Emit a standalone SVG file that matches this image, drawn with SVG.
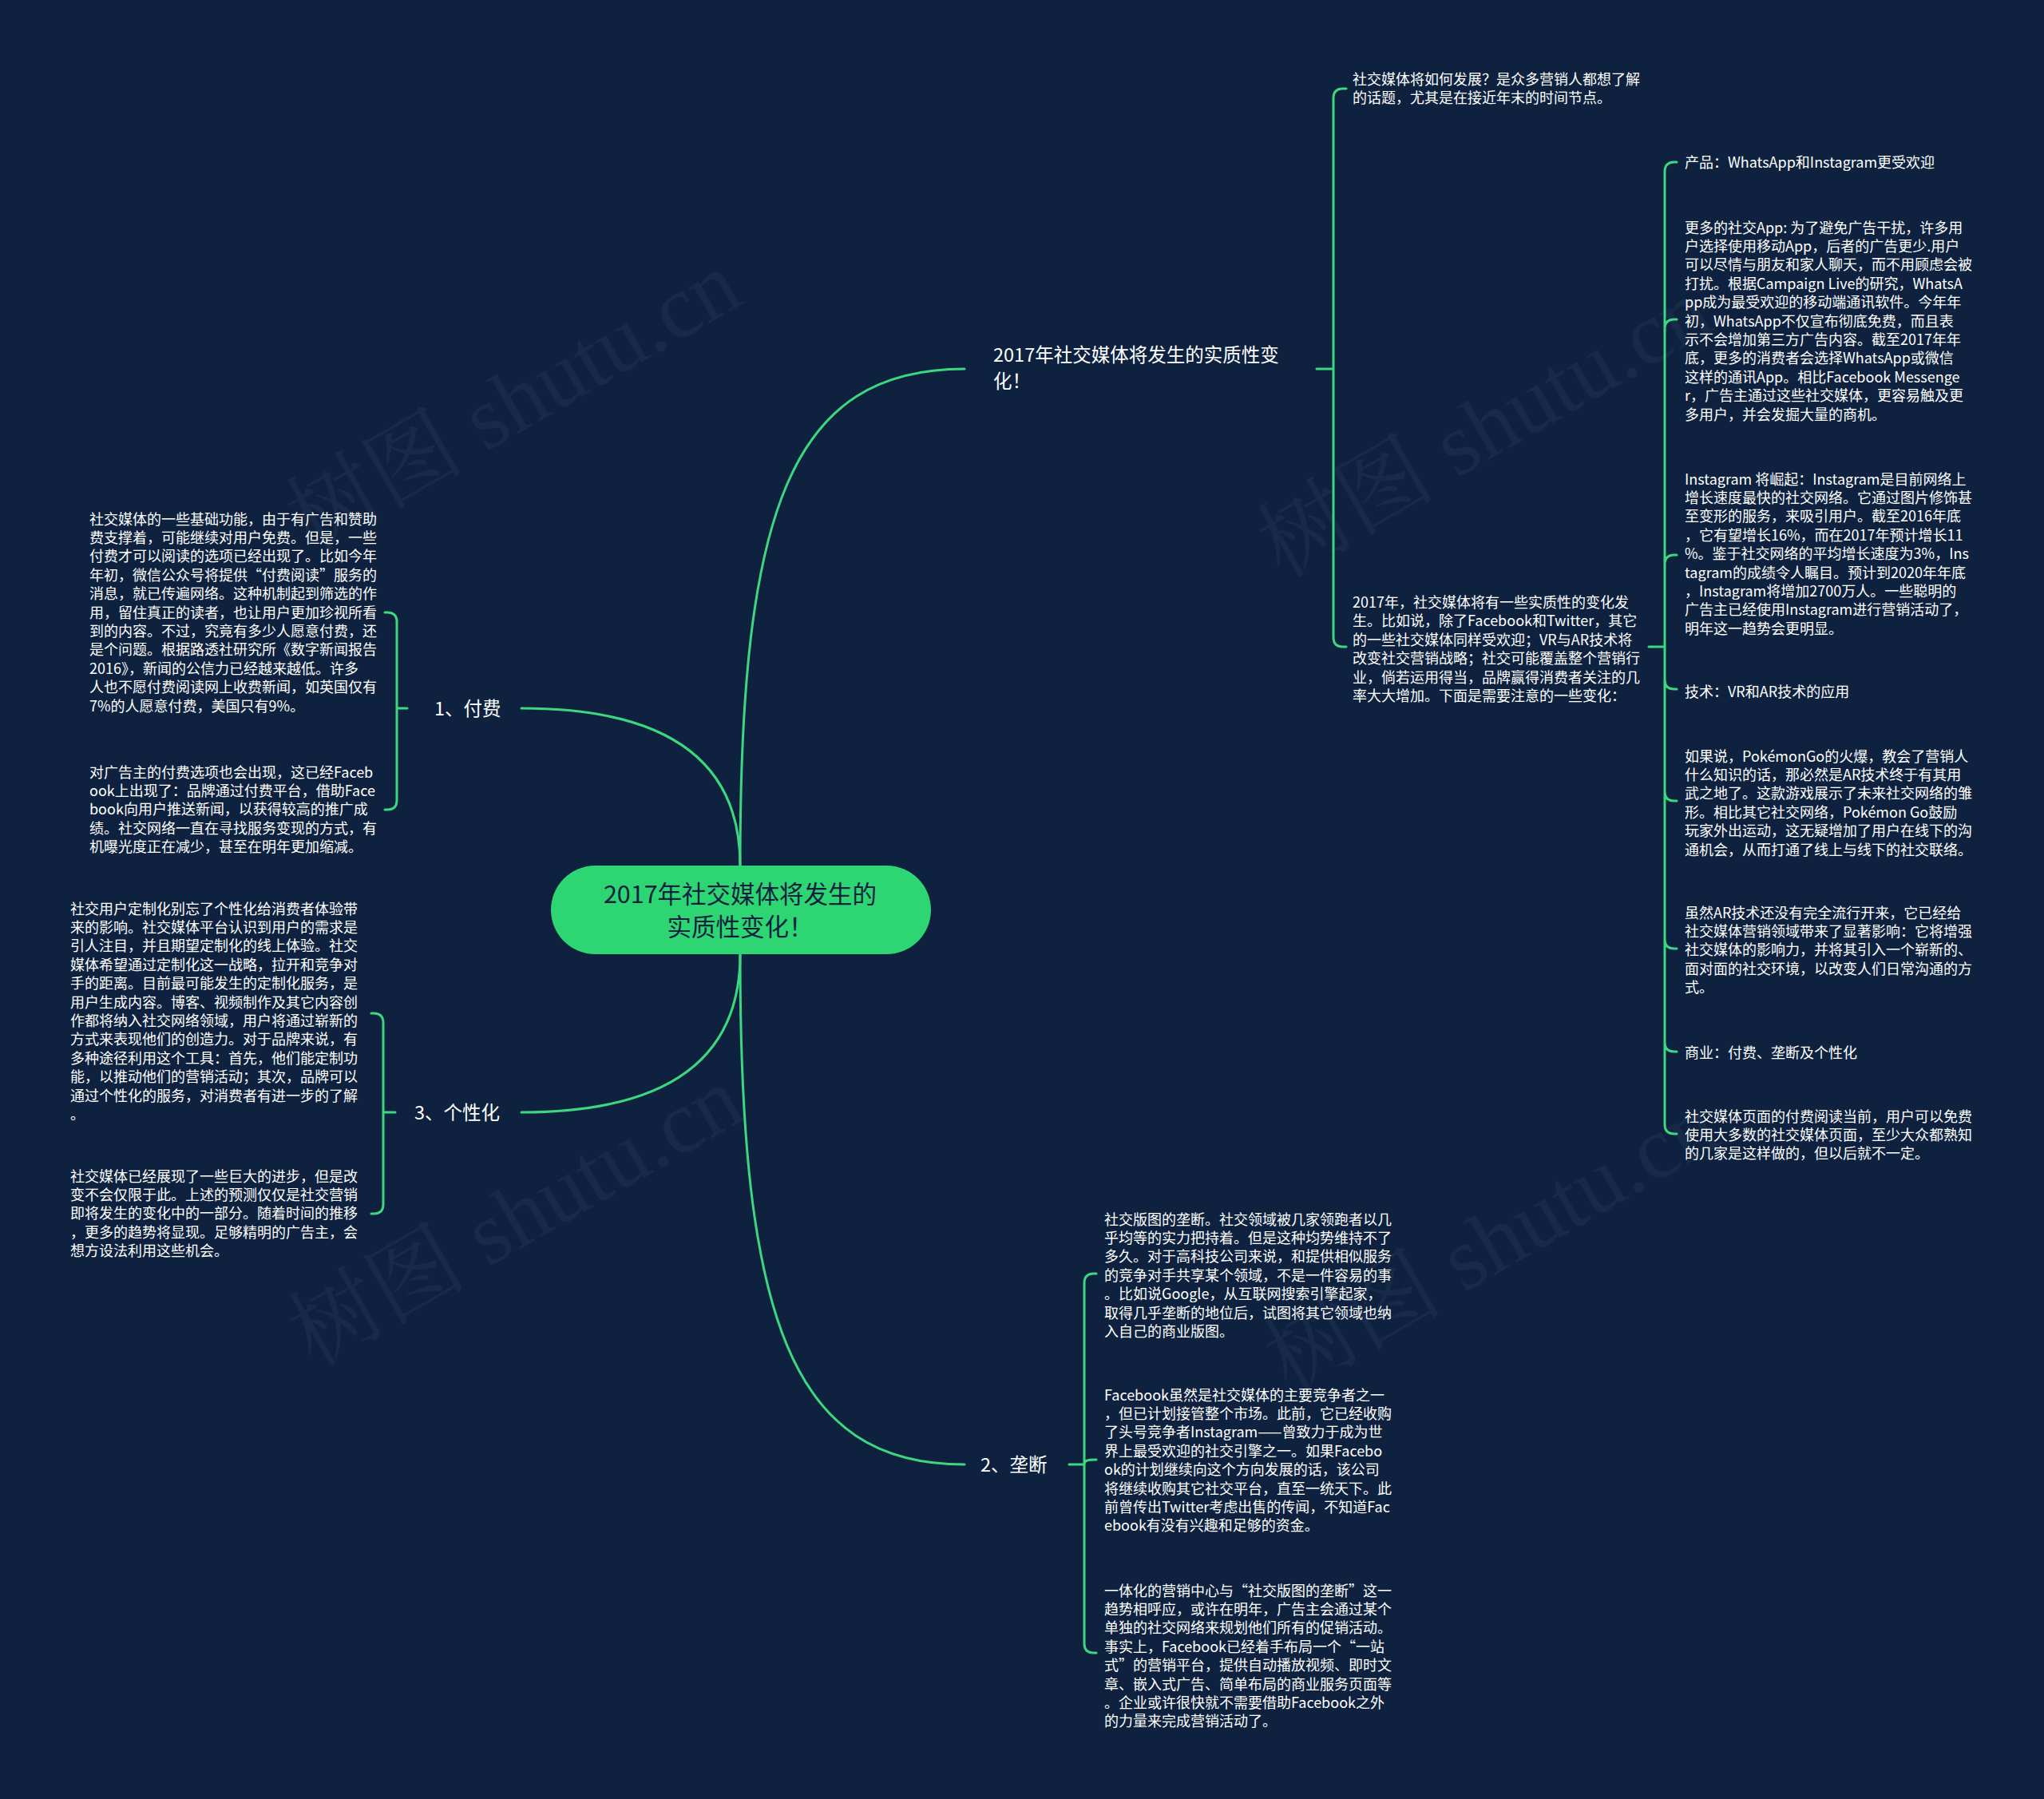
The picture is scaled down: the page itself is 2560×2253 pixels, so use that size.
<svg xmlns="http://www.w3.org/2000/svg" width="2560" height="2253" viewBox="0 0 2560 2253">
<style>
.t{font-family:'Noto Sans CJK SC','Noto Sans',sans-serif;font-size:18px;fill:#ffffff}
.b{font-family:'Noto Sans CJK SC','Noto Sans',sans-serif;font-size:23.5px;fill:#ffffff}
.ctr{font-family:'Noto Sans CJK SC','Noto Sans',sans-serif;font-size:30.5px;fill:#0e2240}
.c{fill:none;stroke:#3cd77e;stroke-width:3;stroke-linecap:round}
.wm{font-family:'Liberation Serif','Noto Serif CJK SC','Noto Sans CJK SC',serif;font-size:112px;fill:#ffffff;fill-opacity:0.04}
</style>
<rect width="2560" height="2253" fill="#0e2240"/>
<g id="watermarks">
<text class="wm" x="645" y="540" text-anchor="middle" transform="rotate(-30 645 506)">树图 shutu.cn</text>
<text class="wm" x="1861" y="573" text-anchor="middle" transform="rotate(-30 1861 539)">树图 shutu.cn</text>
<text class="wm" x="648" y="1561" text-anchor="middle" transform="rotate(-30 648 1527)">树图 shutu.cn</text>
<text class="wm" x="1870" y="1593" text-anchor="middle" transform="rotate(-30 1870 1559)">树图 shutu.cn</text>
</g>
<g id="connectors">
<path class="c" d="M927,1084 C927,640 990,462 1208,462"/>
<path class="c" d="M927,1084 Q927,887 653,887"/>
<path class="c" d="M927,1195 Q927,1393 653,1393"/>
<path class="c" d="M927,1195 C927,1650 990,1834 1208,1834"/>
<path class="c" d="M1649,462 H1670 M1670,462 V123 Q1670,111 1682,111 H1686 M1670,462 V798 Q1670,810 1682,810 H1686"/>
<path class="c" d="M2065,810 H2085 M2085,810 V215 Q2085,203 2097,203 H2100 M2085,810 V412 Q2085,400 2097,400 H2100 M2085,810 V707 Q2085,695 2097,695 H2100 M2085,810 V851 Q2085,863 2097,863 H2100 M2085,810 V991 Q2085,1003 2097,1003 H2100 M2085,810 V1176 Q2085,1188 2097,1188 H2100 M2085,810 V1305 Q2085,1317 2097,1317 H2100 M2085,810 V1408 Q2085,1420 2097,1420 H2100"/>
<path class="c" d="M510,887 H497 M497,887 V779 Q497,767 485,767 H482 M497,887 V1002 Q497,1014 485,1014 H482"/>
<path class="c" d="M495,1393 H480 M480,1393 V1281 Q480,1269 468,1269 H465 M480,1393 V1508 Q480,1520 468,1520 H465"/>
<path class="c" d="M1339,1834 H1358 M1358,1834 V1607 Q1358,1595 1370,1595 H1373 M1358,1834 C1358,1829 1362,1828 1373,1828 M1358,1834 V2058 Q1358,2070 1370,2070 H1373"/>
</g>
<g id="center">
<rect x="690" y="1084" width="476" height="111" rx="55.5" fill="#2ed573"/>
<text class="ctr" text-anchor="middle"><tspan x="927" y="1131">2017年社交媒体将发生的</tspan><tspan x="927" y="1172">实质性变化！</tspan></text>
</g>
<g id="branch-main">
<text class="b"><tspan x="1244" y="452.5">2017年社交媒体将发生的实质性变</tspan><tspan x="1244" y="485.5">化！</tspan></text>
</g>
<g id="branch-1">
<text class="b" x="544" y="895.5">1、付费</text>
</g>
<g id="branch-3">
<text class="b" x="519" y="1401.5">3、个性化</text>
</g>
<g id="branch-2">
<text class="b" x="1228" y="1842.5">2、垄断</text>
</g>
<g id="node-a">
<text class="t"><tspan x="1694" y="106">社交媒体将如何发展？是众多营销人都想了解</tspan><tspan x="1694" y="129.4">的话题，尤其是在接近年末的时间节点。</tspan></text>
</g>
<g id="node-b">
<text class="t"><tspan x="1694" y="761">2017年，社交媒体将有一些实质性的变化发</tspan><tspan x="1694" y="784.4">生。比如说，除了Facebook和Twitter，其它</tspan><tspan x="1694" y="807.8">的一些社交媒体同样受欢迎；VR与AR技术将</tspan><tspan x="1694" y="831.2">改变社交营销战略；社交可能覆盖整个营销行</tspan><tspan x="1694" y="854.6">业，倘若运用得当，品牌赢得消费者关注的几</tspan><tspan x="1694" y="878">率大大增加。下面是需要注意的一些变化：</tspan></text>
</g>
<g id="node-b1">
<text class="t" x="2110" y="209.5">产品：WhatsApp和Instagram更受欢迎</text>
</g>
<g id="node-b2">
<text class="t"><tspan x="2110" y="291.5">更多的社交App: 为了避免广告干扰，许多用</tspan><tspan x="2110" y="314.9">户选择使用移动App，后者的广告更少.用户</tspan><tspan x="2110" y="338.3">可以尽情与朋友和家人聊天，而不用顾虑会被</tspan><tspan x="2110" y="361.7">打扰。根据Campaign Live的研究，WhatsA</tspan><tspan x="2110" y="385.1">pp成为最受欢迎的移动端通讯软件。今年年</tspan><tspan x="2110" y="408.5">初，WhatsApp不仅宣布彻底免费，而且表</tspan><tspan x="2110" y="431.9">示不会增加第三方广告内容。截至2017年年</tspan><tspan x="2110" y="455.3">底，更多的消费者会选择WhatsApp或微信</tspan><tspan x="2110" y="478.7">这样的通讯App。相比Facebook Messenge</tspan><tspan x="2110" y="502.1">r，广告主通过这些社交媒体，更容易触及更</tspan><tspan x="2110" y="525.5">多用户，并会发掘大量的商机。</tspan></text>
</g>
<g id="node-b3">
<text class="t"><tspan x="2110" y="606.5">Instagram 将崛起：Instagram是目前网络上</tspan><tspan x="2110" y="629.9">增长速度最快的社交网络。它通过图片修饰甚</tspan><tspan x="2110" y="653.3">至变形的服务，来吸引用户。截至2016年底</tspan><tspan x="2110" y="676.7">，它有望增长16%，而在2017年预计增长11</tspan><tspan x="2110" y="700.1">%。鉴于社交网络的平均增长速度为3%，Ins</tspan><tspan x="2110" y="723.5">tagram的成绩令人瞩目。预计到2020年年底</tspan><tspan x="2110" y="746.9">，Instagram将增加2700万人。一些聪明的</tspan><tspan x="2110" y="770.3">广告主已经使用Instagram进行营销活动了，</tspan><tspan x="2110" y="793.7">明年这一趋势会更明显。</tspan></text>
</g>
<g id="node-b4">
<text class="t" x="2110" y="873">技术：VR和AR技术的应用</text>
</g>
<g id="node-b5">
<text class="t"><tspan x="2110" y="953.5">如果说，PokémonGo的火爆，教会了营销人</tspan><tspan x="2110" y="976.9">什么知识的话，那必然是AR技术终于有其用</tspan><tspan x="2110" y="1000.3">武之地了。这款游戏展示了未来社交网络的雏</tspan><tspan x="2110" y="1023.7">形。相比其它社交网络，Pokémon Go鼓励</tspan><tspan x="2110" y="1047.1">玩家外出运动，这无疑增加了用户在线下的沟</tspan><tspan x="2110" y="1070.5">通机会，从而打通了线上与线下的社交联络。</tspan></text>
</g>
<g id="node-b6">
<text class="t"><tspan x="2110" y="1149.5">虽然AR技术还没有完全流行开来，它已经给</tspan><tspan x="2110" y="1172.9">社交媒体营销领域带来了显著影响：它将增强</tspan><tspan x="2110" y="1196.3">社交媒体的影响力，并将其引入一个崭新的、</tspan><tspan x="2110" y="1219.7">面对面的社交环境，以改变人们日常沟通的方</tspan><tspan x="2110" y="1243.1">式。</tspan></text>
</g>
<g id="node-b7">
<text class="t" x="2110" y="1324.5">商业：付费、垄断及个性化</text>
</g>
<g id="node-b8">
<text class="t"><tspan x="2110" y="1404.5">社交媒体页面的付费阅读当前，用户可以免费</tspan><tspan x="2110" y="1427.9">使用大多数的社交媒体页面，至少大众都熟知</tspan><tspan x="2110" y="1451.3">的几家是这样做的，但以后就不一定。</tspan></text>
</g>
<g id="node-l1a">
<text class="t"><tspan x="112" y="656.5">社交媒体的一些基础功能，由于有广告和赞助</tspan><tspan x="112" y="679.9">费支撑着，可能继续对用户免费。但是，一些</tspan><tspan x="112" y="703.3">付费才可以阅读的选项已经出现了。比如今年</tspan><tspan x="112" y="726.7">年初，微信公众号将提供“付费阅读”服务的</tspan><tspan x="112" y="750.1">消息，就已传遍网络。这种机制起到筛选的作</tspan><tspan x="112" y="773.5">用，留住真正的读者，也让用户更加珍视所看</tspan><tspan x="112" y="796.9">到的内容。不过，究竟有多少人愿意付费，还</tspan><tspan x="112" y="820.3">是个问题。根据路透社研究所《数字新闻报告</tspan><tspan x="112" y="843.7">2016》，新闻的公信力已经越来越低。许多</tspan><tspan x="112" y="867.1">人也不愿付费阅读网上收费新闻，如英国仅有</tspan><tspan x="112" y="890.5">7%的人愿意付费，美国只有9%。</tspan></text>
</g>
<g id="node-l1b">
<text class="t"><tspan x="112" y="973.5">对广告主的付费选项也会出现，这已经Faceb</tspan><tspan x="112" y="996.9">ook上出现了：品牌通过付费平台，借助Face</tspan><tspan x="112" y="1020.3">book向用户推送新闻，以获得较高的推广成</tspan><tspan x="112" y="1043.7">绩。社交网络一直在寻找服务变现的方式，有</tspan><tspan x="112" y="1067.1">机曝光度正在减少，甚至在明年更加缩减。</tspan></text>
</g>
<g id="node-l3a">
<text class="t"><tspan x="88" y="1144.5">社交用户定制化别忘了个性化给消费者体验带</tspan><tspan x="88" y="1167.9">来的影响。社交媒体平台认识到用户的需求是</tspan><tspan x="88" y="1191.3">引人注目，并且期望定制化的线上体验。社交</tspan><tspan x="88" y="1214.7">媒体希望通过定制化这一战略，拉开和竞争对</tspan><tspan x="88" y="1238.1">手的距离。目前最可能发生的定制化服务，是</tspan><tspan x="88" y="1261.5">用户生成内容。博客、视频制作及其它内容创</tspan><tspan x="88" y="1284.9">作都将纳入社交网络领域，用户将通过崭新的</tspan><tspan x="88" y="1308.3">方式来表现他们的创造力。对于品牌来说，有</tspan><tspan x="88" y="1331.7">多种途径利用这个工具：首先，他们能定制功</tspan><tspan x="88" y="1355.1">能，以推动他们的营销活动；其次，品牌可以</tspan><tspan x="88" y="1378.5">通过个性化的服务，对消费者有进一步的了解</tspan><tspan x="88" y="1401.9">。</tspan></text>
</g>
<g id="node-l3b">
<text class="t"><tspan x="88" y="1479.5">社交媒体已经展现了一些巨大的进步，但是改</tspan><tspan x="88" y="1502.9">变不会仅限于此。上述的预测仅仅是社交营销</tspan><tspan x="88" y="1526.3">即将发生的变化中的一部分。随着时间的推移</tspan><tspan x="88" y="1549.7">，更多的趋势将显现。足够精明的广告主，会</tspan><tspan x="88" y="1573.1">想方设法利用这些机会。</tspan></text>
</g>
<g id="node-m1">
<text class="t"><tspan x="1383" y="1533.5">社交版图的垄断。社交领域被几家领跑者以几</tspan><tspan x="1383" y="1556.9">乎均等的实力把持着。但是这种均势维持不了</tspan><tspan x="1383" y="1580.3">多久。对于高科技公司来说，和提供相似服务</tspan><tspan x="1383" y="1603.7">的竞争对手共享某个领域，不是一件容易的事</tspan><tspan x="1383" y="1627.1">。比如说Google，从互联网搜索引擎起家，</tspan><tspan x="1383" y="1650.5">取得几乎垄断的地位后，试图将其它领域也纳</tspan><tspan x="1383" y="1673.9">入自己的商业版图。</tspan></text>
</g>
<g id="node-m2">
<text class="t"><tspan x="1383" y="1753.5">Facebook虽然是社交媒体的主要竞争者之一</tspan><tspan x="1383" y="1776.9">，但已计划接管整个市场。此前，它已经收购</tspan><tspan x="1383" y="1800.3">了头号竞争者Instagram——曾致力于成为世</tspan><tspan x="1383" y="1823.7">界上最受欢迎的社交引擎之一。如果Facebo</tspan><tspan x="1383" y="1847.1">ok的计划继续向这个方向发展的话，该公司</tspan><tspan x="1383" y="1870.5">将继续收购其它社交平台，直至一统天下。此</tspan><tspan x="1383" y="1893.9">前曾传出Twitter考虑出售的传闻，不知道Fac</tspan><tspan x="1383" y="1917.3">ebook有没有兴趣和足够的资金。</tspan></text>
</g>
<g id="node-m3">
<text class="t"><tspan x="1383" y="1998.5">一体化的营销中心与“社交版图的垄断”这一</tspan><tspan x="1383" y="2021.9">趋势相呼应，或许在明年，广告主会通过某个</tspan><tspan x="1383" y="2045.3">单独的社交网络来规划他们所有的促销活动。</tspan><tspan x="1383" y="2068.7">事实上，Facebook已经着手布局一个“一站</tspan><tspan x="1383" y="2092.1">式”的营销平台，提供自动播放视频、即时文</tspan><tspan x="1383" y="2115.5">章、嵌入式广告、简单布局的商业服务页面等</tspan><tspan x="1383" y="2138.9">。企业或许很快就不需要借助Facebook之外</tspan><tspan x="1383" y="2162.3">的力量来完成营销活动了。</tspan></text>
</g>
</svg>
